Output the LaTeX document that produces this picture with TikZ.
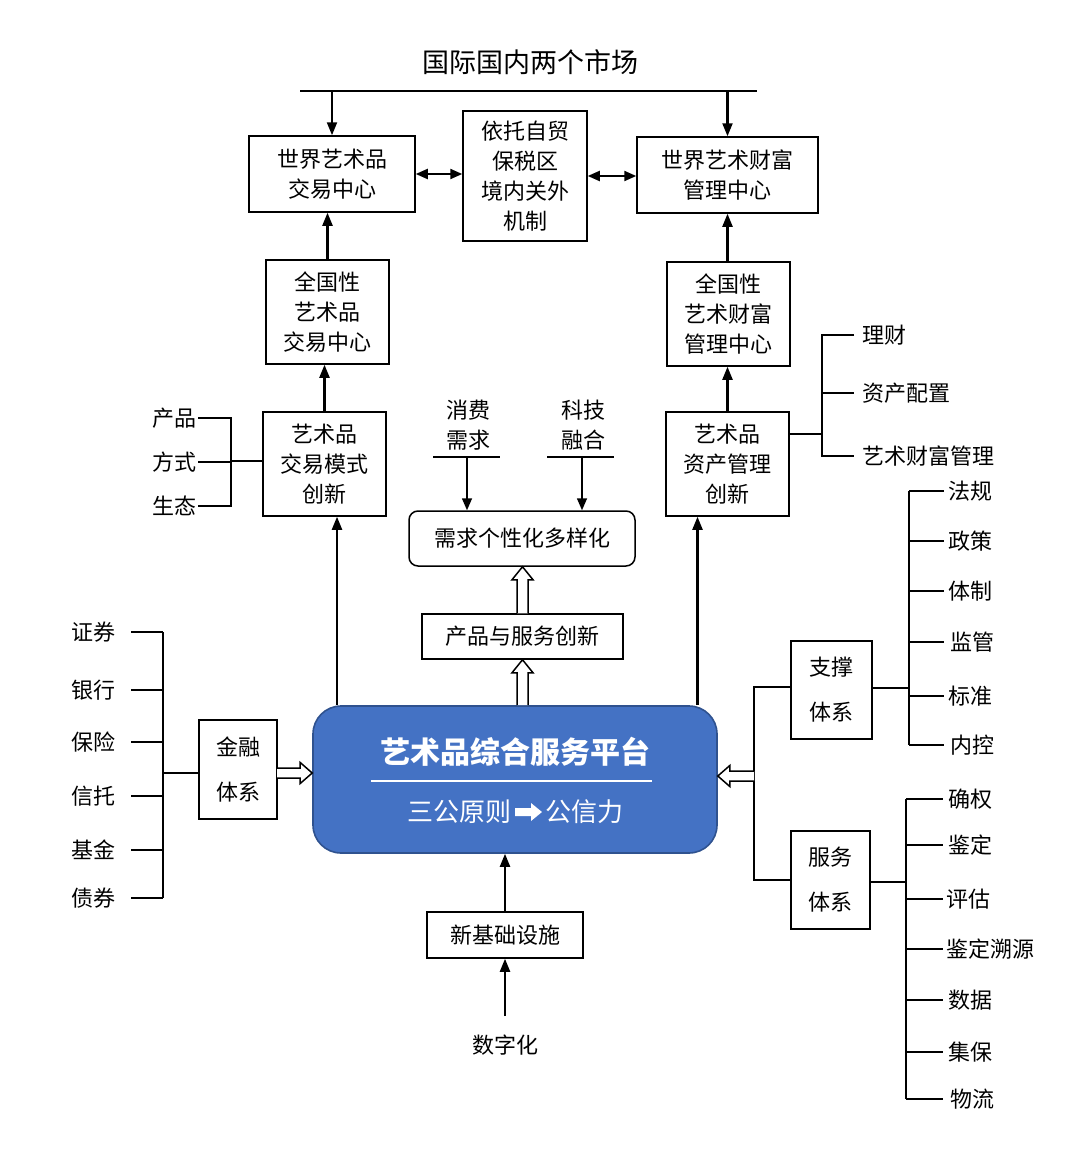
\documentclass[tikz,border=0pt]{standalone}
\usepackage{fontspec}
\usetikzlibrary{arrows.meta,calc}
\newfontfamily\cjk{Noto Sans CJK SC}
\newcommand\boxfont{\cjk\fontsize{22}{30}\selectfont}
\newcommand\widefont{\cjk\fontsize{22}{45}\selectfont}
\newcommand\lblfont{\cjk\fontsize{22}{30}\selectfont}
\definecolor{pfill}{HTML}{4472C4}
\definecolor{pline}{HTML}{2F528F}
\tikzset{
  box/.style={draw, line width=1.5pt, inner sep=0pt, align=center, font=\boxfont},
  arr/.style={line width=2.1pt, -{Triangle[length=13pt,width=10pt]}},
  darr/.style={line width=2.1pt, {Triangle[length=12pt,width=10pt]}-{Triangle[length=12pt,width=10pt]}},
  thinln/.style={line width=1.2pt},
  lbl/.style={inner sep=0pt, font=\lblfont, align=center},
  hollow/.style={draw, line width=1.5pt, fill=white, line join=miter},
}
\begin{document}
\begin{tikzpicture}[x=1pt,y=-1pt]
\useasboundingbox (0,0) rectangle (1080,1156);

% title and top bar
\node[lbl, font=\cjk\fontsize{27}{30}\selectfont] (title) at (530,62) {国际国内两个市场};
\coordinate (tl) at (300,91);
\coordinate (tr) at (757,91);
\draw[line width=1.5pt] (tl) -- (tr);

% top boxes
\node[box, minimum width=166pt, minimum height=76pt] (A) at (332,174) {世界艺术品\\交易中心};
\node[box, minimum width=124pt, minimum height=130pt] (M) at (525,176) {依托自贸\\保税区\\境内关外\\机制};
\node[box, minimum width=181pt, minimum height=76pt] (B) at (727.5,175) {世界艺术财富\\管理中心};

\draw[arr] (A.north |- tl) -- (A.north);
\draw[arr] (B.north |- tr) -- (B.north);
\draw[darr] (A.east) -- (M.west |- A.east);
\draw[darr] (M.east) -- (B.west |- M.east);

% national centres
\node[box, minimum width=123pt, minimum height=104pt] (C) at (327.5,312) {全国性\\艺术品\\交易中心};
\node[box, minimum width=123pt, minimum height=104pt] (D) at (728.5,314) {全国性\\艺术财富\\管理中心};
\draw[arr] (C.north) -- (C.north |- A.south);
\draw[arr] (D.north -| B.south) -- (B.south);

% innovation boxes
\node[box, minimum width=123pt, minimum height=104pt] (E) at (324.5,464) {艺术品\\交易模式\\创新};
\node[box, minimum width=123pt, minimum height=104pt] (F) at (727.5,464) {艺术品\\资产管理\\创新};
\draw[arr] (E.north) -- (E.north |- C.south);
\draw[arr] (F.north) -- (F.north |- D.south);

% left bracket of E
\node[lbl, anchor=east] (e1) at (197,418) {产品};
\node[lbl, anchor=east] (e2) at (197,462) {方式};
\node[lbl, anchor=east] (e3) at (197,506) {生态};
\coordinate (ebar) at (231,461);
\draw[thinln] ([xshift=1pt]e1.east) -- (e1.east -| ebar) -- (e3.east -| ebar) -- ([xshift=1pt]e3.east);
\draw[thinln] ([xshift=1pt]e2.east) -- (e2.east -| ebar);
\draw[thinln] (ebar) -- (E.west |- ebar);

% right bracket of F
\node[lbl, anchor=west] (f1) at (862,335) {理财};
\node[lbl, anchor=west] (f2) at (862,393) {资产配置};
\node[lbl, anchor=west] (f3) at (862,456) {艺术财富管理};
\coordinate (fbar) at (822,434);
\draw[thinln] (F.east |- fbar) -- (fbar);
\draw[thinln] ([xshift=-8pt]f1.west) -- (f1.west -| fbar) -- (f3.west -| fbar) -- ([xshift=-8pt]f3.west);
\draw[thinln] (f2.west -| fbar) -- ([xshift=-8pt]f2.west);

% demand
\node[lbl] (x1) at (468,425) {消费\\需求};
\node[lbl] (x2) at (583,425) {科技\\融合};
\coordinate (u1l) at (433,457); \coordinate (u1r) at (500,457);
\coordinate (u2l) at (547,457); \coordinate (u2r) at (614,457);
\draw[line width=1.5pt] (u1l) -- (u1r);
\draw[line width=1.5pt] (u2l) -- (u2r);
\coordinate (u1) at (467,457);
\coordinate (u2) at (582,457);
\node[box, rounded corners=9pt, minimum width=226pt, minimum height=55pt] (G) at (522,538.5) {需求个性化多样化};
\draw[line width=1.5pt, -{Triangle[length=12pt,width=10pt]}] (u1) -- (u1 |- G.north);
\draw[line width=1.5pt, -{Triangle[length=12pt,width=10pt]}] (u2) -- (u2 |- G.north);

\node[box, minimum width=201pt, minimum height=45pt] (H) at (522.5,636.5) {产品与服务创新};

% platform
\node[draw=pline, fill=pfill, line width=1.6pt, rounded corners=28pt, minimum width=404pt, minimum height=147pt] (P) at (515,779.5) {};
\node[inner sep=0pt, text=white, font=\cjk\bfseries\fontsize{30}{32}\selectfont] (pt) at (515,752) {艺术品综合服务平台};
\coordinate (pl1) at (371,781); \coordinate (pl2) at (652,781);
\draw[white, line width=1.3pt] (pl1) -- (pl2);
\node[inner sep=0pt, text=white, font=\cjk\fontsize{26}{28}\selectfont, anchor=east] (ps1) at (512,812) {三公原则};
\node[inner sep=0pt, text=white, font=\cjk\fontsize{26}{28}\selectfont, anchor=west] (ps2) at (545,812) {公信力};
\fill[white] (515,808) -- (531,808) -- (531,803) -- (542,812) -- (531,821) -- (531,816) -- (515,816) -- cycle;

% hollow arrows up
\coordinate (gh) at (H.north |- G.south);
\draw[hollow] ($(H.north)+(-5.5,0)$) -- ($(gh)+(-5.5,13)$) -- ($(gh)+(-10.5,13)$) -- (gh) -- ($(gh)+(10.5,13)$) -- ($(gh)+(5.5,13)$) -- ($(H.north)+(5.5,0)$);
\coordinate (pb) at (H.south |- P.north);
\draw[hollow] ($(pb)+(-5.5,0)$) -- ($(H.south)+(-5.5,13)$) -- ($(H.south)+(-10.5,13)$) -- (H.south) -- ($(H.south)+(10.5,13)$) -- ($(H.south)+(5.5,13)$) -- ($(pb)+(5.5,0)$);

% long arrows from platform
\coordinate (pe) at ([xshift=12.5pt]E.south);
\coordinate (pf) at ([xshift=-30pt]F.south);
\draw[arr] (pe |- P.north) -- (pe);
\draw[arr] (pf |- P.north) -- (pf);

% finance
\node[box, font=\widefont, minimum width=78pt, minimum height=99pt] (Fin) at (238,769.5) {金融\\体系};
\coordinate (finy) at (277,773);
\coordinate (fintip) at (P.west |- finy);
\draw[hollow] (finy) ++(0,-5) -- ($(fintip)+(-12,-5)$) -- ($(fintip)+(-12,-10.5)$) -- (fintip) -- ($(fintip)+(-12,10.5)$) -- ($(fintip)+(-12,5)$) -- ($(finy)+(0,5)$);
\node[lbl] (l1) at (93,632) {证券};
\node[lbl] (l2) at (93,690) {银行};
\node[lbl] (l3) at (93,742) {保险};
\node[lbl] (l4) at (93,796) {信托};
\node[lbl] (l5) at (93,850) {基金};
\node[lbl] (l6) at (93,898) {债券};
\coordinate (lbar) at (163,773);
\foreach \n in {l1,l2,l3,l4,l5,l6} {
  \draw[thinln] ([xshift=16pt]\n.east) -- (\n.east -| lbar);
}
\draw[thinln] (l1.east -| lbar) -- (l6.east -| lbar);
\draw[thinln] (lbar) -- (Fin.west |- lbar);

% support and service
\node[box, font=\widefont, minimum width=81pt, minimum height=98pt] (Sup) at (831.5,690) {支撑\\体系};
\node[box, font=\widefont, minimum width=79pt, minimum height=98pt] (Srv) at (830.5,880) {服务\\体系};
\coordinate (rbar) at (754,776);
\coordinate (rtip) at (P.east |- rbar);
\draw[thinln] (Sup.west |- 0,687) -- (754,687) -- (754,880) -- (Srv.west |- 0,880);
\draw[hollow] ($(rbar)+(0,-5)$) -- ($(rtip)+(12,-5)$) -- ($(rtip)+(12,-10.5)$) -- (rtip) -- ($(rtip)+(12,10.5)$) -- ($(rtip)+(12,5)$) -- ($(rbar)+(0,5)$);

\node[lbl, anchor=west] (s1) at (948,491) {法规};
\node[lbl, anchor=west] (s2) at (948,541) {政策};
\node[lbl, anchor=west] (s3) at (948,591) {体制};
\node[lbl, anchor=west] (s4) at (950,642) {监管};
\node[lbl, anchor=west] (s5) at (948,696) {标准};
\node[lbl, anchor=west] (s6) at (950,745) {内控};
\coordinate (sbar) at (909,688);
\draw[thinln] (Sup.east |- sbar) -- (sbar);
\foreach \n in {s1,s2,s3,s4,s5,s6} {
  \draw[thinln] (\n.west -| sbar) -- ([xshift=-4pt]\n.west -| 948,0);
}
\draw[thinln] (s1.west -| sbar) -- (s6.west -| sbar);

\node[lbl, anchor=west] (v1) at (948,799) {确权};
\node[lbl, anchor=west] (v2) at (948,845) {鉴定};
\node[lbl, anchor=west] (v3) at (946,899) {评估};
\node[lbl, anchor=west] (v4) at (946,949) {鉴定溯源};
\node[lbl, anchor=west] (v5) at (948,1000) {数据};
\node[lbl, anchor=west] (v6) at (948,1052) {集保};
\node[lbl, anchor=west] (v7) at (950,1099) {物流};
\coordinate (vbar) at (906,882);
\draw[thinln] (Srv.east |- vbar) -- (vbar);
\foreach \n in {v1,v2,v3,v4,v5,v6,v7} {
  \draw[thinln] (\n.west -| vbar) -- (\n.west -| 943,0);
}
\draw[thinln] (v1.west -| vbar) -- (v7.west -| vbar);

% bottom
\node[box, minimum width=156pt, minimum height=46pt] (N) at (505,935) {新基础设施};
\node[lbl] (dig) at (505,1045) {数字化};
\draw[arr] (N.north) -- (N.north |- P.south);
\coordinate (dtop) at (505,1016);
\draw[arr] (dtop) -- (N.south);
\end{tikzpicture}
\end{document}
